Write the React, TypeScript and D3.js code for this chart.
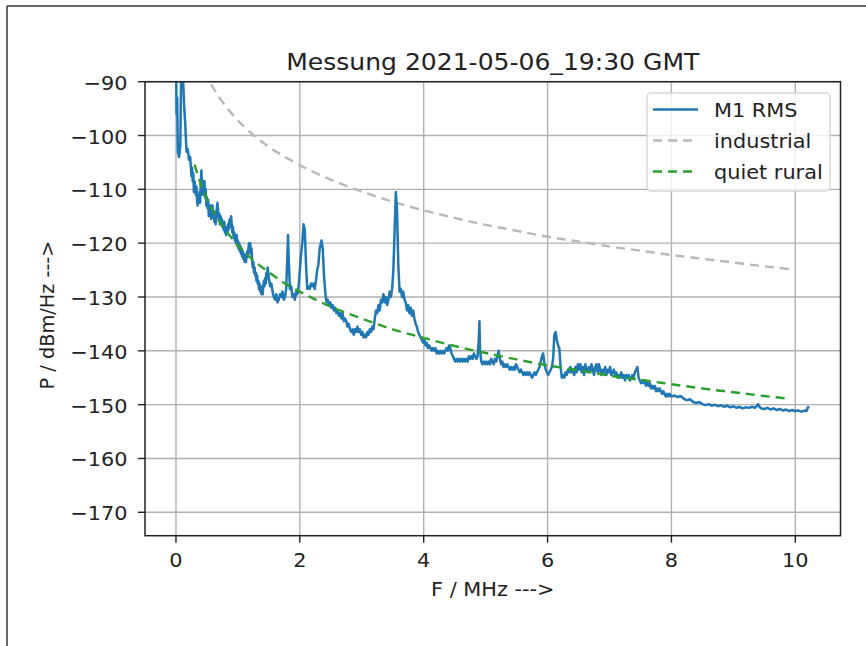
import React from 'react';
import * as d3 from 'd3';

const W = 866;
const H = 646;

const titleText = 'Messung 2021-05-06_19:30 GMT';
const xLabelText = 'F / MHz --->';
const yLabelText = 'P / dBm/Hz --->';
const legendLabels = ['M1 RMS', 'industrial', 'quiet rural'];

const xTicks = [0, 2, 4, 6, 8, 10];
const yTicks = [-170, -160, -150, -140, -130, -120, -110, -100, -90];

// measured spectrum: [frequency MHz, power dBm/Hz]
const m1Rms: [number, number][] = [
  [0.0, -86], [0.01, -96], [0.02, -93], [0.03, -103], [0.05, -104], [0.07, -102], [0.08, -92], [0.09, -86],
  [0.11, -88], [0.13, -94], [0.15, -98], [0.17, -103], [0.19, -102.5], [0.21, -104.5], [0.23, -104],
  [0.25, -107.5], [0.26, -106], [0.27, -108.5], [0.28, -107], [0.29, -110.5], [0.3, -108.5], [0.31, -109.5], [0.32, -111],
  [0.33, -109.5], [0.34, -112], [0.35, -113], [0.36, -111], [0.37, -112.5], [0.38, -110.5], [0.39, -112.5], [0.4, -109],
  [0.41, -106.5], [0.42, -109.5], [0.43, -111], [0.44, -108.5], [0.45, -110], [0.46, -108.5], [0.47, -111.5], [0.48, -110],
  [0.49, -113], [0.5, -111.5], [0.51, -113.5], [0.52, -112], [0.53, -115], [0.54, -113.5], [0.55, -114.5], [0.56, -113],
  [0.57, -115.5], [0.58, -114], [0.59, -113], [0.6, -115], [0.61, -114], [0.62, -116], [0.63, -115], [0.64, -116.5],
  [0.65, -114.5], [0.66, -113.5], [0.67, -112.5], [0.68, -114], [0.69, -115.5], [0.7, -114.5], [0.71, -116.5], [0.72, -115],
  [0.73, -116.5], [0.74, -115.5], [0.75, -117], [0.76, -116], [0.77, -117.5], [0.78, -116], [0.79, -118], [0.8, -117],
  [0.81, -118.5], [0.82, -117], [0.83, -118], [0.84, -116.5], [0.85, -117.5], [0.86, -116], [0.87, -115.5], [0.88, -117],
  [0.89, -115], [0.9, -116.5], [0.91, -118], [0.92, -117], [0.93, -119], [0.94, -118], [0.95, -119.5], [0.96, -118.5],
  [0.97, -120], [0.98, -118.5], [0.99, -120.5], [1.0, -119.5], [1.01, -121], [1.02, -120], [1.03, -121.5], [1.04, -120.5],
  [1.05, -122], [1.06, -121], [1.07, -122.5], [1.08, -121.5], [1.09, -123], [1.1, -122], [1.11, -123.5], [1.12, -122.5],
  [1.13, -123.5], [1.14, -122.5], [1.15, -121.5], [1.16, -122.5], [1.17, -121], [1.18, -120], [1.19, -121.5], [1.2, -120],
  [1.21, -122], [1.22, -121], [1.23, -123.5], [1.24, -124.5], [1.25, -123.5], [1.26, -125.5], [1.27, -124.5], [1.28, -126],
  [1.29, -125.5], [1.3, -127], [1.31, -126], [1.32, -127.5], [1.33, -127], [1.34, -128.5], [1.35, -127.5], [1.36, -129],
  [1.37, -128], [1.38, -129.5], [1.39, -128.5], [1.4, -129.5], [1.41, -128], [1.42, -127], [1.43, -128], [1.44, -126.5],
  [1.45, -127.5], [1.46, -125.5], [1.47, -126.5], [1.48, -124.5], [1.49, -125.5], [1.5, -126.5], [1.52, -128],
  [1.54, -127.5], [1.56, -129], [1.58, -130], [1.6, -130.5], [1.62, -129.5], [1.64, -131], [1.66, -130.5], [1.68, -129.5],
  [1.7, -130], [1.72, -129], [1.74, -130.5], [1.76, -130], [1.78, -128.5], [1.8, -122], [1.81, -118.5], [1.82, -123],
  [1.84, -128.5], [1.86, -128], [1.88, -130], [1.9, -129.5], [1.92, -130.5], [1.94, -129], [1.96, -129.5], [1.98, -128],
  [2.0, -125], [2.02, -122], [2.04, -120], [2.06, -116.5], [2.08, -117.5], [2.1, -124], [2.12, -128.5], [2.14, -128],
  [2.16, -128.5], [2.18, -127.5], [2.2, -128], [2.22, -127.5], [2.24, -128.5], [2.26, -127], [2.28, -125], [2.3, -124],
  [2.32, -121], [2.35, -119.5], [2.37, -121], [2.39, -126], [2.41, -129], [2.43, -131], [2.45, -130.5], [2.47, -131.5],
  [2.49, -131], [2.51, -132], [2.53, -131.5], [2.55, -132.5], [2.57, -132], [2.59, -133], [2.61, -132.5], [2.63, -133.5],
  [2.65, -133], [2.67, -134], [2.69, -133], [2.71, -134.5], [2.73, -134], [2.75, -134.5], [2.77, -135.5], [2.79, -135],
  [2.81, -136], [2.83, -136.5], [2.85, -136], [2.87, -137], [2.89, -136], [2.91, -136.5], [2.93, -135.5], [2.95, -136.5],
  [2.97, -136], [2.99, -137], [3.01, -136.5], [3.03, -137.5], [3.05, -137], [3.07, -137.5], [3.09, -136.5], [3.11, -137],
  [3.13, -136], [3.15, -136.5], [3.17, -135.5], [3.19, -136], [3.21, -134], [3.23, -132.5], [3.25, -133], [3.27, -131.5],
  [3.29, -132.5], [3.31, -130.5], [3.33, -131], [3.35, -129.5], [3.37, -131], [3.39, -130], [3.41, -131.5], [3.43, -130.5],
  [3.45, -129], [3.47, -130], [3.49, -128.5], [3.51, -125], [3.53, -118], [3.55, -110.5], [3.57, -114], [3.59, -124],
  [3.61, -129], [3.63, -128.5], [3.65, -130], [3.67, -129], [3.69, -130.5], [3.71, -131], [3.73, -132.5], [3.75, -131.5],
  [3.77, -133], [3.79, -132], [3.81, -133.5], [3.83, -132.5], [3.85, -134], [3.87, -135], [3.89, -135.5], [3.91, -136.5],
  [3.93, -137], [3.95, -137.5], [3.97, -138], [3.99, -138.5], [4.01, -138], [4.03, -139], [4.05, -138.5], [4.07, -139.5],
  [4.09, -139], [4.11, -139.5], [4.13, -140], [4.15, -139.5], [4.17, -140], [4.19, -139.5], [4.21, -140.5], [4.23, -140],
  [4.25, -140.5], [4.27, -140], [4.29, -140.5], [4.31, -140], [4.33, -140.5], [4.35, -140], [4.37, -139.5], [4.39, -140],
  [4.41, -139], [4.43, -139.5], [4.45, -140.5], [4.47, -141], [4.49, -141.5], [4.51, -142], [4.53, -141.5], [4.55, -142],
  [4.57, -141.5], [4.59, -142], [4.61, -141.5], [4.63, -142], [4.65, -141.5], [4.67, -142], [4.69, -141.5], [4.71, -142],
  [4.73, -141], [4.75, -141.5], [4.77, -141], [4.79, -141.5], [4.81, -140.5], [4.83, -141], [4.85, -141.5], [4.87, -141],
  [4.89, -138], [4.9, -134.5], [4.91, -140], [4.93, -142], [4.95, -142.5], [4.97, -142], [4.99, -142.5], [5.01, -142],
  [5.03, -142.5], [5.05, -142], [5.07, -142.5], [5.09, -141.5], [5.11, -142], [5.13, -142.5], [5.15, -141.5], [5.17, -142],
  [5.19, -141], [5.21, -140], [5.23, -141.5], [5.25, -142.5], [5.27, -142], [5.29, -143], [5.31, -142.5], [5.33, -143],
  [5.35, -142.5], [5.37, -143], [5.39, -143.5], [5.41, -143], [5.43, -143.5], [5.45, -143], [5.47, -143.5], [5.49, -142.5],
  [5.51, -143], [5.53, -143.5], [5.55, -144], [5.57, -143.5], [5.59, -144], [5.61, -144.5], [5.63, -144], [5.65, -144.5],
  [5.67, -144], [5.69, -144.5], [5.71, -144], [5.73, -144.5], [5.75, -145], [5.77, -144.5], [5.79, -144], [5.81, -144.5],
  [5.83, -144], [5.85, -143.5], [5.87, -143], [5.89, -142], [5.91, -141], [5.93, -140.5], [5.95, -142.5], [5.97, -143.5],
  [5.99, -144], [6.01, -144.5], [6.03, -144], [6.05, -143.5], [6.07, -143], [6.09, -141.5], [6.11, -137], [6.13, -136.5],
  [6.15, -138], [6.17, -139], [6.19, -139.5], [6.21, -143], [6.23, -145], [6.25, -144.5], [6.27, -145], [6.29, -144],
  [6.31, -144.5], [6.33, -143.5], [6.35, -144], [6.37, -143], [6.39, -144], [6.41, -143.5], [6.43, -144.5], [6.45, -143],
  [6.47, -144], [6.49, -142.5], [6.51, -143.5], [6.53, -142.5], [6.55, -144], [6.57, -143], [6.59, -144.5], [6.61, -142.5],
  [6.63, -143.5], [6.65, -144], [6.67, -143], [6.69, -144], [6.71, -142.5], [6.73, -143.5], [6.75, -144.5], [6.77, -143],
  [6.79, -142.5], [6.81, -144], [6.83, -142.5], [6.85, -143.5], [6.87, -144.5], [6.89, -143.5], [6.91, -144], [6.93, -143],
  [6.95, -144.5], [6.97, -143.5], [6.99, -144], [7.01, -143], [7.03, -144.5], [7.05, -144], [7.07, -143.5], [7.09, -144.5],
  [7.11, -144], [7.13, -145], [7.15, -144.5], [7.17, -145], [7.19, -144], [7.21, -145], [7.23, -144.5], [7.25, -145.5],
  [7.27, -144.5], [7.29, -145], [7.31, -144.5], [7.33, -145.5], [7.35, -145], [7.37, -144.5], [7.39, -145], [7.41, -144],
  [7.43, -143.5], [7.45, -143], [7.47, -145], [7.49, -145.5], [7.51, -146], [7.53, -145.5], [7.55, -146], [7.57, -145.5],
  [7.59, -146.5], [7.61, -146], [7.63, -146.5], [7.65, -146], [7.67, -147], [7.69, -146.5], [7.71, -147], [7.73, -146.5],
  [7.75, -147.5], [7.77, -147], [7.79, -147.5], [7.81, -147], [7.83, -147.5], [7.85, -148], [7.87, -147.5], [7.89, -148],
  [7.91, -148.5], [7.93, -148], [7.95, -148.5], [7.97, -148], [8.0, -148.5], [8.05, -148.3], [8.1, -148.6], [8.15, -148.4],
  [8.2, -148.9], [8.25, -149.2], [8.3, -149], [8.35, -149.5], [8.4, -149.7], [8.45, -149.5], [8.5, -149.9], [8.55, -150.1],
  [8.6, -149.9], [8.65, -150.2], [8.7, -150], [8.75, -150.3], [8.8, -150.1], [8.85, -150.4], [8.9, -150.2], [8.95, -150.5],
  [9.0, -150.3], [9.05, -150.6], [9.1, -150.4], [9.15, -150.7], [9.2, -150.5], [9.25, -150.6], [9.3, -150.4], [9.35, -150.6],
  [9.4, -149.9], [9.42, -150.4], [9.45, -150.7], [9.5, -150.8], [9.55, -150.6], [9.6, -150.9], [9.65, -150.7], [9.7, -151],
  [9.75, -150.8], [9.8, -151.1], [9.85, -150.9], [9.9, -151.2], [9.95, -151], [10.0, -151.2], [10.05, -151.1], [10.1, -151.3],
  [10.15, -151.1], [10.18, -151.2], [10.2, -150.6], [10.22, -150.3],
];

// reference curves
const industrial: [number, number][] = [
  [0.3, -82.7], [0.4, -86.2], [0.5, -88.9], [0.6, -91.1], [0.7, -92.9], [0.8, -94.5], [1.0, -97.2], [1.25, -99.9],
  [1.5, -102.1], [1.75, -103.9], [2.0, -105.5], [2.5, -108.2], [3.0, -110.4], [3.5, -112.3], [4.0, -113.9],
  [4.5, -115.3], [5.0, -116.6], [5.5, -117.7], [6.0, -118.8], [6.5, -119.7], [7.0, -120.6], [7.5, -121.4],
  [8.0, -122.2], [8.5, -122.9], [9.0, -123.6], [9.5, -124.3], [9.9, -124.8],
];

const quietRural: [number, number][] = [
  [0.3, -105.4], [0.4, -109.0], [0.5, -111.8], [0.6, -114.1], [0.7, -116.0], [0.8, -117.6], [1.0, -120.4],
  [1.25, -123.2], [1.5, -125.4], [1.75, -127.4], [2.0, -129.0], [2.5, -131.8], [3.0, -134.0], [3.5, -136.0],
  [4.0, -137.6], [4.5, -139.1], [5.0, -140.4], [5.5, -141.6], [6.0, -142.7], [6.5, -143.6], [7.0, -144.6],
  [7.5, -145.4], [8.0, -146.2], [8.5, -147.0], [9.0, -147.7], [9.5, -148.4], [9.9, -148.9],
];

const COLORS = { m1: '#1f77b4', industrial: '#b8b8b8', rural: '#2ca02c' };

const FONT = 'DejaVu Sans, Verdana, sans-serif';
const FS = 19.3;
const SX = 1.08;

export default function App() {
  const left = 145, right = 840.5, top = 81.7, bottom = 535.7;
  const x = d3.scaleLinear().domain([-0.5, 10.73]).range([left, right]);
  const y = d3.scaleLinear().domain([-174.35, -90]).range([bottom, top]);

  const lineLin = d3.line<[number, number]>().x(d => x(d[0])).y(d => y(d[1]));
  const lineSmooth = d3.line<[number, number]>().x(d => x(d[0])).y(d => y(d[1])).curve(d3.curveMonotoneX);

  const fmt = (v: number) => (v < 0 ? '\u2212' + Math.abs(v) : String(v));

  const legendX = 647, legendY = 93, legendW = 183, legendH = 98;
  const rows = [109.5, 140.5, 171.5];
  const legendStyles = [
    { color: COLORS.m1, dash: undefined as string | undefined },
    { color: COLORS.industrial, dash: '9,6' },
    { color: COLORS.rural, dash: '9,6' },
  ];

  return (
    <svg width={W} height={H} style={{ position: 'absolute', left: 0, top: 0, background: '#fff' }} fontFamily={FONT}>
      <rect x={0} y={0} width={W} height={H} fill="#fff" />
      {/* outer frame */}
      <line x1={7} y1={6} x2={W} y2={6} stroke="#333" strokeWidth={1.5} />
      <line x1={7} y1={6} x2={7} y2={H} stroke="#333" strokeWidth={1.5} />

      <defs>
        <clipPath id="plotclip">
          <rect x={left} y={top} width={right - left} height={bottom - top} />
        </clipPath>
      </defs>

      {/* grid */}
      {xTicks.map(t => (
        <line key={'gx' + t} x1={x(t)} x2={x(t)} y1={top} y2={bottom} stroke="#b0b0b0" strokeWidth={1.4} />
      ))}
      {yTicks.map(t => (
        <line key={'gy' + t} x1={left} x2={right} y1={y(t)} y2={y(t)} stroke="#b0b0b0" strokeWidth={1.4} />
      ))}

      <g clipPath="url(#plotclip)">
        <path d={lineSmooth(industrial) || ''} fill="none" stroke={COLORS.industrial} strokeWidth={2.4} strokeDasharray="9,6" />
        <path d={lineLin(m1Rms) || ''} fill="none" stroke={COLORS.m1} strokeWidth={2.5} strokeLinejoin="round" />
        <path d={lineSmooth(quietRural) || ''} fill="none" stroke={COLORS.rural} strokeWidth={2.4} strokeDasharray="9,6" />
      </g>

      {/* spines */}
      <rect x={left} y={top} width={right - left} height={bottom - top} fill="none" stroke="#222" strokeWidth={1.5} />

      {/* ticks */}
      {xTicks.map(t => (
        <g key={'tx' + t}>
          <line x1={x(t)} x2={x(t)} y1={bottom} y2={bottom + 7} stroke="#222" strokeWidth={1.4} />
          <text transform={`translate(${x(t)},567) scale(${SX},1)`} textAnchor="middle" fontSize={FS} fill="#222">
            {fmt(t)}
          </text>
        </g>
      ))}
      {yTicks.map(t => (
        <g key={'ty' + t}>
          <line x1={left - 7} x2={left} y1={y(t)} y2={y(t)} stroke="#222" strokeWidth={1.4} />
          <text transform={`translate(127.5,${y(t) + 8}) scale(${SX},1)`} textAnchor="end" fontSize={FS} fill="#222">
            {fmt(t)}
          </text>
        </g>
      ))}

      {/* title and labels */}
      <text transform={`translate(${(left + right) / 2},70) scale(${SX},1)`} textAnchor="middle" fontSize={23.2} fill="#222">
        {titleText}
      </text>
      <text transform={`translate(${(left + right) / 2},596) scale(${SX},1)`} textAnchor="middle" fontSize={FS} fill="#222">
        {xLabelText}
      </text>
      <text transform={`translate(54,315) rotate(-90)`} textAnchor="middle" fontSize={FS} fill="#222">
        {yLabelText}
      </text>

      {/* legend */}
      <rect x={legendX} y={legendY} width={legendW} height={legendH} rx={4} ry={4} fill="#fff" fillOpacity={0.8} stroke="#d5d5d5" strokeWidth={1.3} />
      {legendLabels.map((lab, i) => (
        <g key={lab}>
          <line x1={653} x2={698} y1={rows[i]} y2={rows[i]} stroke={legendStyles[i].color} strokeWidth={2.5} strokeDasharray={legendStyles[i].dash} />
          <text transform={`translate(714,${rows[i] + 7.5}) scale(${SX},1)`} fontSize={FS} fill="#222">
            {lab}
          </text>
        </g>
      ))}
    </svg>
  );
}
